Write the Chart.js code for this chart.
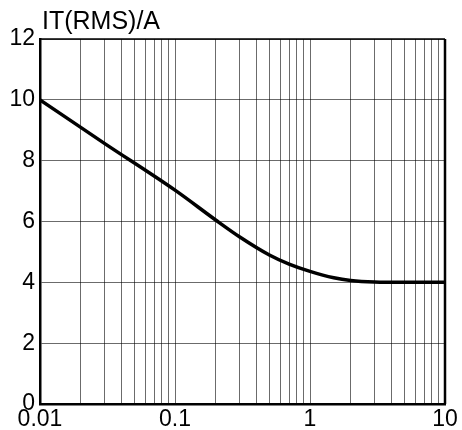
<!DOCTYPE html>
<html lang="en">
<head>
  <meta charset="UTF-8" />
  <title>IT(RMS) vs time</title>
  <style>
    * { margin: 0; padding: 0; box-sizing: border-box; }
    body { background: #fff; }
    #wrap { width: 462px; height: 430px; }
  </style>
</head>
<body>
  <div id="wrap"><canvas id="curveChart" width="462" height="430"></canvas></div>
  <script src="https://cdn.jsdelivr.net/npm/chart.js"></script>
  <script>
    // values
    const xValues = [0.01, 0.03, 0.1, 0.2, 0.3, 0.5, 0.7, 1, 1.5, 2, 3, 5, 10];
    const yValues = [10, 8.57, 7.03, 6.05, 5.5, 4.9, 4.6, 4.36, 4.15, 4.06, 4.01, 4.0, 4.0];
    const xTickLabels = ["0.01", "0.1", "1", "10"];
    const yTicks = [0, 2, 4, 6, 8, 10, 12];
    const yTitle = "IT(RMS)/A";

    const fontFamily = "'Liberation Sans', Arial, sans-serif";
    const gridColor = "rgba(0,0,0,0.58)";

    // grid positions 1..9 x each decade
    const xGrid = [];
    [0.01, 0.1, 1].forEach(d => {
      for (let m = 1; m < 10; m++) xGrid.push(+(m * d).toPrecision(3));
    });
    xGrid.push(10);

    // frame + axis title
    const framePlugin = {
      id: "frame",
      afterDraw(chart) {
        const { ctx, chartArea: a } = chart;
        ctx.save();
        ctx.strokeStyle = "#000";
        ctx.lineWidth = 1.5;
        ctx.beginPath();
        ctx.moveTo(a.left, a.top);
        ctx.lineTo(a.right, a.top);
        ctx.stroke();
        ctx.lineWidth = 2.5;
        ctx.beginPath();
        ctx.moveTo(a.right, a.top);
        ctx.lineTo(a.right, a.bottom);
        ctx.stroke();
        ctx.fillStyle = "#000";
        ctx.font = "25px " + fontFamily;
        ctx.textBaseline = "alphabetic";
        ctx.textAlign = "left";
        ctx.fillText(yTitle, a.left + 2, a.top - 10);
        ctx.restore();
      }
    };

    new Chart(document.getElementById("curveChart").getContext("2d"), {
      type: "line",
      data: {
        datasets: [{
          data: xValues.map((x, i) => ({ x: x, y: yValues[i] })),
          borderColor: "#000",
          borderWidth: 3.5,
          pointRadius: 0,
          fill: false,
          cubicInterpolationMode: "monotone"
        }]
      },
      options: {
        responsive: false,
        animation: false,
        events: [],
        layout: { padding: { top: 39, right: 17, left: 0, bottom: 0 } },
        plugins: {
          legend: { display: false },
          tooltip: { enabled: false },
          title: { display: false }
        },
        scales: {
          x: {
            type: "logarithmic",
            min: 0.01,
            max: 10,
            afterBuildTicks(scale) {
              scale.ticks = xGrid.map(v => ({ value: v, major: false }));
            },
            afterFit(scale) { scale.height = 26; },
            ticks: {
              autoSkip: false,
              maxRotation: 0,
              padding: 2,
              color: "#000",
              font: { family: fontFamily, size: 23 },
              callback(value) {
                const lbl = xTickLabels.find(t => Math.abs(parseFloat(t) - value) < 1e-9);
                return lbl === undefined ? "" : lbl;
              }
            },
            grid: { color: gridColor, lineWidth: 1, drawTicks: false },
            border: { display: true, color: "#000", width: 2.5 }
          },
          y: {
            min: 0,
            max: 12,
            afterBuildTicks(scale) {
              scale.ticks = yTicks.map(v => ({ value: v }));
            },
            afterFit(scale) { scale.width = 40; },
            ticks: {
              padding: 5,
              color: "#000",
              font: { family: fontFamily, size: 23 }
            },
            grid: { color: gridColor, lineWidth: 1, drawTicks: false },
            border: { display: true, color: "#000", width: 2.5 }
          }
        }
      },
      plugins: [framePlugin]
    });
  </script>
</body>
</html>
